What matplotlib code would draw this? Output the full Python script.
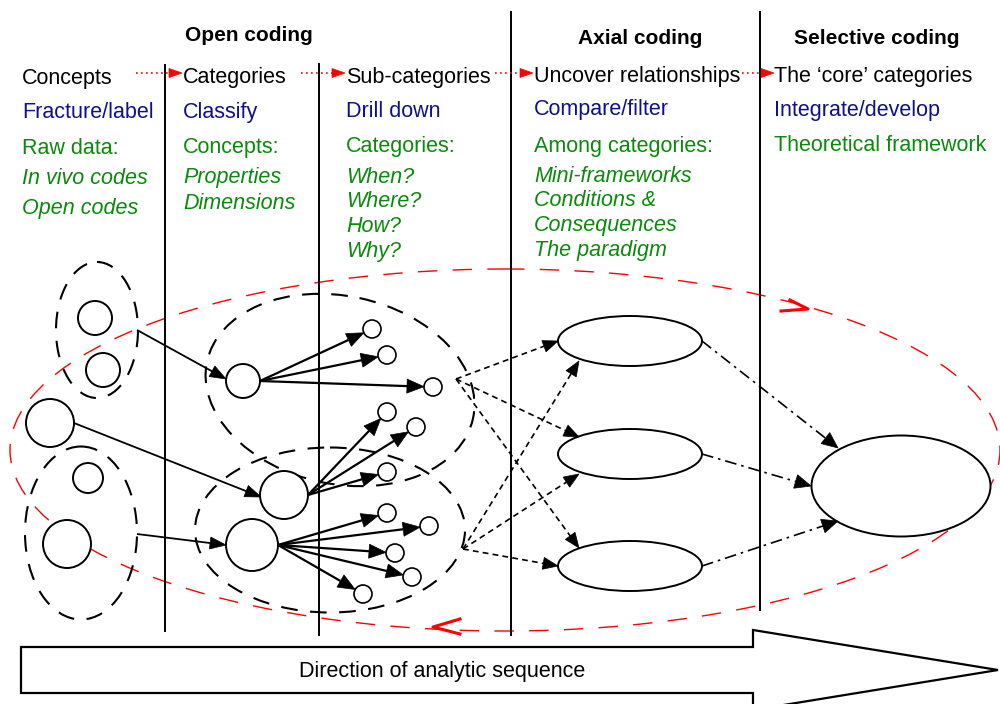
import numpy as np
import matplotlib
matplotlib.use("Agg")
import matplotlib.pyplot as plt
from matplotlib.patches import Ellipse, Circle, Polygon

plt.rcParams['font.family'] = ['Liberation Sans', 'DejaVu Sans']

# Pixel-space layout of the diagram (x right, y down), 1000x704 canvas
NAVY = '#10108c'
GREEN = '#0a8a0a'
RED = '#ff0000'

# column separators: x, y_top, y_bottom
col_lines = [(165, 65, 631), (319, 64, 635), (511, 12, 635), (760, 12, 610)]

# headings: text, x centre, baseline
headings = [("Open coding", 249, 41), ("Axial coding", 640, 44), ("Selective coding", 877, 44)]

# column text: x, [(text, baseline, colour, italic)]
col_text = [
    (22, [("Concepts", 84, 'k', False), ("Fracture/label", 118, NAVY, False),
          ("Raw data:", 154, GREEN, False), ("In vivo codes", 184, GREEN, True),
          ("Open codes", 214, GREEN, True)]),
    (183, [("Categories", 83, 'k', False), ("Classify", 118, NAVY, False),
           ("Concepts:", 153, GREEN, False), ("Properties", 183, GREEN, True),
           ("Dimensions", 209, GREEN, True)]),
    (346, [("Sub-categories", 83, 'k', False), ("Drill down", 117, NAVY, False),
           ("Categories:", 152, GREEN, False), ("When?", 183, GREEN, True),
           ("Where?", 207, GREEN, True), ("How?", 232, GREEN, True),
           ("Why?", 257, GREEN, True)]),
    (534, [("Uncover relationships", 82, 'k', False), ("Compare/filter", 115, NAVY, False),
           ("Among categories:", 152, GREEN, False), ("Mini-frameworks", 182, GREEN, True),
           ("Conditions &", 206, GREEN, True), ("Consequences", 231, GREEN, True),
           ("The paradigm", 256, GREEN, True)]),
    (774, [("The \u2018core\u2019 categories", 82, 'k', False), ("Integrate/develop", 116, NAVY, False),
           ("Theoretical framework", 151, GREEN, False)]),
]

# red dotted arrows between the first-row labels
red_links = [(136, 182, 73), (301, 345, 73), (495, 533, 73), (742, 774, 73)]

# dashed groupings (centre x, centre y, width, height, angle)
groups = [(97, 330, 82, 136, 0), (81, 533, 112, 173, 0),
          (340, 390, 272, 188, 12), (330, 530, 270, 165, 0)]

# circles: x, y, r
concepts = [(95, 318, 17), (103, 370, 17), (50, 423, 24), (88, 478, 15), (67, 544, 24)]
categories = [(243, 381, 17), (284, 495, 24), (252, 545, 26)]
subcats = [(372, 329), (387, 355), (433, 387), (387, 412), (416, 427), (387, 472),
           (387, 513), (429, 526), (395, 553), (412, 577), (363, 594)]
sub_r = 9
sub_parent = [0, 0, 0, 1, 1, 1, 2, 2, 2, 2, 2]

# concept -> category arrows (start, end)
feed = [((137, 330), (226, 379)), ((74, 423), (261, 497)), ((137, 534), (226, 545))]

# axial ellipses and the core category
axial = [(630, 341), (630, 454), (630, 566)]
axial_w, axial_h = 144, 50
core = (901, 486, 179, 101)
hubs = [(456, 379), (463, 549)]
hub_targets = [[(558, 341), (579, 437), (579, 548)],
               [(579, 361), (579, 474), (558, 566)]]
core_links = [((702, 341), (838, 448)), ((702, 454), (811, 486)), ((702, 566), (838, 521))]

# big arrow
big_arrow = [(21, 647), (753, 647), (753, 630), (998, 670), (753, 710), (753, 693), (21, 693)]


def arrow(ax, p0, p1, ls='-', lw=1.3, color='k', L=14, W=5):
    x0, y0 = p0
    x1, y1 = p1
    d = np.hypot(x1 - x0, y1 - y0)
    ux, uy = (x1 - x0) / d, (y1 - y0) / d
    bx, by = x1 - ux * L, y1 - uy * L
    ax.plot([x0, bx], [y0, by], color=color, lw=lw, linestyle=ls, solid_capstyle='butt')
    ax.add_patch(Polygon([(x1, y1), (bx - uy * W, by + ux * W), (bx + uy * W, by - ux * W)],
                         closed=True, facecolor=color, edgecolor=color, lw=0.5))


fig = plt.figure(figsize=(10, 7.04), dpi=100)
ax = fig.add_axes([0, 0, 1, 1])
ax.set_xlim(0, 1000)
ax.set_ylim(704, 0)
ax.axis('off')

for x, y0, y1 in col_lines:
    ax.plot([x, x], [y0, y1], color='k', lw=1.4)

for t, x, y in headings:
    ax.text(x, y, t, ha='center', va='baseline', fontsize=15, fontweight='bold')

for x, rows in col_text:
    for t, y, c, it in rows:
        ax.text(x, y, t, ha='left', va='baseline', fontsize=15.5, color=c,
                style='italic' if it else 'normal')

for x0, x1, y in red_links:
    arrow(ax, (x0, y), (x1, y), ls=(0, (1, 2)), lw=1.2, color=RED, L=13, W=4.5)

# red cycle ellipse
ax.add_patch(Ellipse((505, 450), 990, 362, fill=False, edgecolor=RED, lw=1,
                     linestyle=(0, (14, 11))))
ax.plot([790, 808, 781], [300, 309, 311], color=RED, lw=2.2)
ax.plot([460, 433, 460], [619, 627, 634], color=RED, lw=2.2)

for cx, cy, w, h, a in groups:
    ax.add_patch(Ellipse((cx, cy), w, h, angle=a, fill=False, edgecolor='k', lw=1.5,
                         linestyle=(0, (8, 6))))

for x, y, r in concepts + categories:
    ax.add_patch(Circle((x, y), r, facecolor='white', edgecolor='k', lw=1.4))
for x, y in subcats:
    ax.add_patch(Circle((x, y), sub_r, facecolor='white', edgecolor='k', lw=1.2))

for p0, p1 in feed:
    arrow(ax, p0, p1, L=16, W=6)

# sub-category arrows all leave from the right-hand edge of their category
for (sx, sy), parent in zip(subcats, sub_parent):
    px, py, pr = categories[parent]
    start = (px + pr, py)
    d = np.hypot(sx - start[0], sy - start[1])
    end = (sx - sub_r * (sx - start[0]) / d, sy - sub_r * (sy - start[1]) / d)
    arrow(ax, start, end, lw=1.6, L=17, W=7)

for x, y in axial:
    ax.add_patch(Ellipse((x, y), axial_w, axial_h, facecolor='white', edgecolor='k', lw=1.4))
ax.add_patch(Ellipse(core[:2], core[2], core[3], facecolor='white', edgecolor='k', lw=1.4))

for hub, targets in zip(hubs, hub_targets):
    for t in targets:
        arrow(ax, hub, t, ls=(0, (3.5, 2.5)), lw=1.2, L=15, W=6)

for p0, p1 in core_links:
    arrow(ax, p0, p1, ls=(0, (7, 3, 1.5, 3)), lw=1.2, L=16, W=7)

ax.add_patch(Polygon(big_arrow, closed=True, facecolor='white', edgecolor='k', lw=1.6))
ax.text(442, 677, "Direction of analytic sequence", ha='center', va='baseline', fontsize=15.5)

fig.savefig("out.png", dpi=100)
